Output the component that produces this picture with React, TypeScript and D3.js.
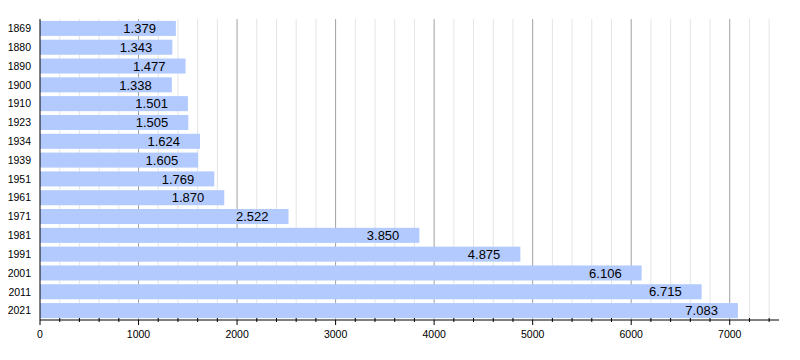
import React from "react";
import * as d3 from "d3";

const years = ["1869","1880","1890","1900","1910","1923","1934","1939","1951","1961","1971","1981","1991","2001","2011","2021"];
const population = [1379,1343,1477,1338,1501,1505,1624,1605,1769,1870,2522,3850,4875,6106,6715,7083];
const majorTicks = [0,1000,2000,3000,4000,5000,6000,7000];

const W = 800, H = 360;
const left = 40, right = 779, top = 19, axisY = 320;

export default function App() {
  const x = d3.scaleLinear().domain([0, 7500]).range([left, right]);
  const rowStep = (axisY - top) / years.length;
  const y = d3.scaleBand().domain(years).range([top, top + rowStep * years.length]).paddingInner(0.2).paddingOuter(0.1);
  const minorTicks = d3.range(200, 7500, 200).filter(v => v % 1000 !== 0);
  const fmt = (v: number) => d3.format(",")(v).replace(/,/g, ".");
  const font = "'Liberation Sans', Arial, sans-serif";
  return (
    <svg width={W} height={H} style={{ position: "absolute", left: 0, top: 0, background: "#fff" }} fontFamily={font}>
      {minorTicks.map(v => (
        <line key={"mg" + v} x1={x(v)} x2={x(v)} y1={top} y2={axisY} stroke="#e4e4e4" strokeWidth={1} />
      ))}
      {majorTicks.filter(v => v > 0).map(v => (
        <line key={"Mg" + v} x1={x(v)} x2={x(v)} y1={top} y2={axisY} stroke="#a0a0a0" strokeWidth={1} />
      ))}
      {years.map((yr, i) => (
        <g key={yr}>
          <rect x={x(0)} y={y(yr)} width={x(population[i]) - x(0)} height={y.bandwidth()} fill="#b3caff" />
          <text x={x(population[i]) - 20} y={(y(yr) as number) + y.bandwidth() / 2} dy="0.36em" textAnchor="end" fontSize={13} fill="#000">{fmt(population[i])}</text>
          <text x={31} y={(y(yr) as number) + y.bandwidth() / 2} dy="0.36em" textAnchor="end" fontSize={10.5} fill="#000">{yr}</text>
        </g>
      ))}
      <line x1={left} x2={left} y1={top} y2={axisY} stroke="#000" strokeWidth={1} />
      <line x1={left} x2={right} y1={axisY} y2={axisY} stroke="#000" strokeWidth={1} />
      {minorTicks.map(v => (
        <line key={"mt" + v} x1={x(v)} x2={x(v)} y1={axisY - 2} y2={axisY + 2} stroke="#000" strokeWidth={1} />
      ))}
      {majorTicks.map(v => (
        <g key={"Mt" + v}>
          <line x1={x(v)} x2={x(v)} y1={axisY} y2={axisY + 5} stroke="#000" strokeWidth={1} />
          <text x={x(v)} y={axisY + 14} dy="0.36em" textAnchor="middle" fontSize={10.5} fill="#000">{v}</text>
        </g>
      ))}
    </svg>
  );
}
